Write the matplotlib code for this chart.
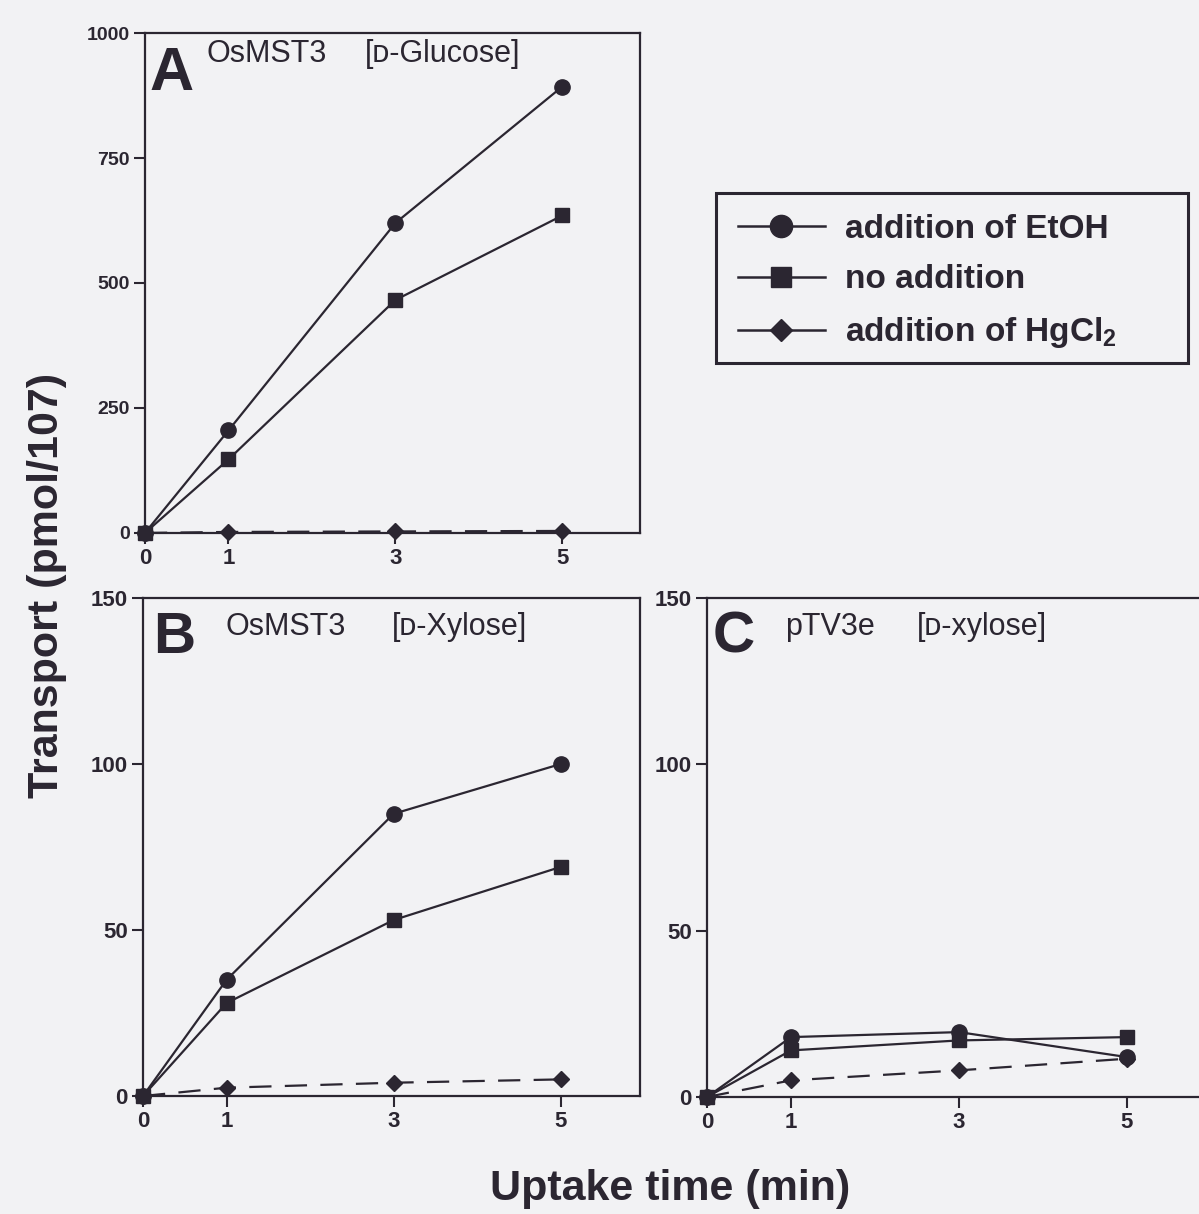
import matplotlib
matplotlib.use("Agg")
import matplotlib.pyplot as plt
from matplotlib.lines import Line2D
from matplotlib.patches import Rectangle

plt.rcParams['font.family'] = ['Liberation Sans', 'DejaVu Sans']
plt.rcParams['mathtext.fontset'] = 'custom'
plt.rcParams['mathtext.bf'] = 'Liberation Sans:bold'
plt.rcParams['mathtext.default'] = 'bf'

# data
times = [0, 1, 3, 5]

a_etoh = [0, 205, 620, 893]
a_none = [0, 147, 466, 635]
a_hg = [0, 2, 3, 4]

b_etoh = [0, 35, 85, 100]
b_none = [0, 28, 53, 69]
b_hg = [0, 2.5, 4, 5]

c_etoh = [0, 18, 19.5, 12]
c_none = [0, 14, 17, 18]
c_hg = [0, 5, 8, 11.5]

legend_labels = ['addition of EtOH', 'no addition', r'addition of HgCl$_2$']
a_yticks = [0, 250, 500, 750, 1000]
bc_yticks = [0, 50, 100, 150]
xticks = [0, 1, 3, 5]

ink = '#2b2631'
paper = '#f2f2f4'

fig = plt.figure(figsize=(11.99, 12.14), dpi=100, facecolor=paper)

axA = fig.add_axes([0.1209, 0.5610, 0.4129, 0.4118])
axB = fig.add_axes([0.1193, 0.0972, 0.4145, 0.4102])
axC = fig.add_axes([0.5897, 0.0964, 0.4103, 0.4110])


def draw(ax, etoh, none, hg, ymax, yticks, xmax, ysize):
    ax.set_facecolor(paper)
    ax.plot(times, etoh, '-o', color=ink, lw=1.6, ms=11, zorder=3, clip_on=False)
    ax.plot(times, none, '-s', color=ink, lw=1.6, ms=10, zorder=3, clip_on=False)
    ax.plot(times, hg, 'D', color=ink, ms=8, zorder=3, clip_on=False)
    ax.plot(times, hg, '--', color=ink, lw=1.6, dashes=(10, 6), zorder=2)
    ax.set_xlim(0, xmax)
    ax.set_ylim(0, ymax)
    ax.set_xticks(xticks)
    ax.set_yticks(yticks)
    ax.tick_params(direction='out', length=8, width=1.5, color=ink,
                   labelcolor=ink, pad=3)
    ax.tick_params(axis='x', labelsize=16)
    ax.tick_params(axis='y', labelsize=ysize)
    for lab in ax.get_xticklabels() + ax.get_yticklabels():
        lab.set_fontweight('bold')
    for sp in ax.spines.values():
        sp.set_color(ink)
        sp.set_linewidth(1.6)


draw(axA, a_etoh, a_none, a_hg, 1000, a_yticks, 5.93, 14)
draw(axB, b_etoh, b_none, b_hg, 150, bc_yticks, 5.95, 16)
draw(axC, c_etoh, c_none, c_hg, 150, bc_yticks, 5.86, 16)
axC.spines['right'].set_visible(False)

# panel titles
axA.text(0.01, 0.886, 'A', transform=axA.transAxes, fontsize=44, fontweight='bold', color=ink)
axA.text(0.125, 0.942, 'OsMST3', transform=axA.transAxes, fontsize=22, color=ink)
axA.text(0.444, 0.942, '[ᴅ-Glucose]', transform=axA.transAxes, fontsize=22, color=ink)

axB.text(0.02, 0.89, 'B', transform=axB.transAxes, fontsize=42, fontweight='bold', color=ink)
axB.text(0.165, 0.926, 'OsMST3', transform=axB.transAxes, fontsize=22, color=ink)
axB.text(0.50, 0.926, '[ᴅ-Xylose]', transform=axB.transAxes, fontsize=22, color=ink)

axC.text(0.012, 0.89, 'C', transform=axC.transAxes, fontsize=42, fontweight='bold', color=ink)
axC.text(0.159, 0.926, 'pTV3e', transform=axC.transAxes, fontsize=22, color=ink)
axC.text(0.427, 0.926, '[ᴅ-xylose]', transform=axC.transAxes, fontsize=22, color=ink)

# legend box drawn separately, entries without frame
W, H = 1199, 1214
fig.patches.append(Rectangle((716 / W, 1 - 363 / H), 472 / W, 170 / H,
                             transform=fig.transFigure, fill=False,
                             edgecolor=ink, linewidth=2.2))
handles = [Line2D([], [], color=ink, lw=1.8, marker='o', ms=16),
           Line2D([], [], color=ink, lw=1.8, marker='s', ms=14),
           Line2D([], [], color=ink, lw=1.8, marker='D', ms=11)]
leg = fig.legend(handles, legend_labels, loc='center left',
                 bbox_to_anchor=(738 / W, 1 - 282 / H),
                 prop={'weight': 'bold', 'size': 24},
                 handlelength=2.6, handletextpad=0.6, labelspacing=0.6,
                 borderpad=0, borderaxespad=0, frameon=False)
for t in leg.get_texts():
    t.set_color(ink)

fig.text(0.039, 0.518, 'Transport (pmol/107)', rotation=90, ha='center', va='center',
         fontsize=31, fontweight='bold', color=ink)
fig.text(0.559, 0.021, 'Uptake time (min)', ha='center', va='center',
         fontsize=31, fontweight='bold', color=ink)

fig.savefig('out.png', dpi=100, facecolor=paper)
